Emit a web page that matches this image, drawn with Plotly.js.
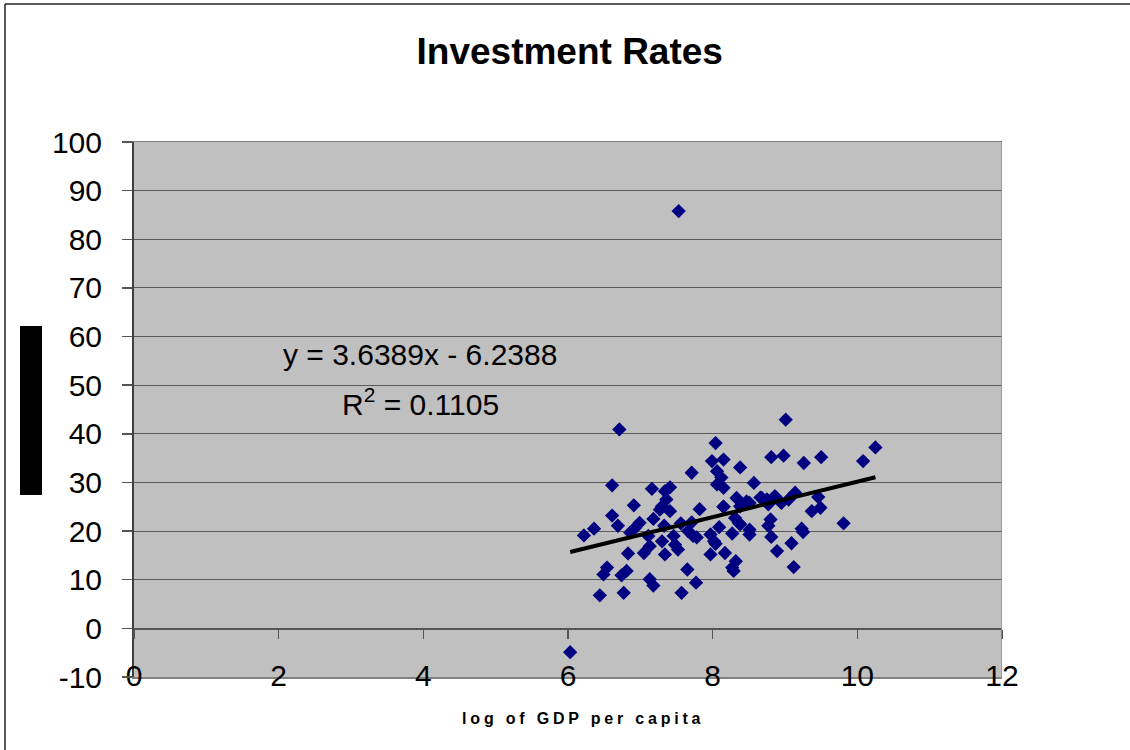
<!DOCTYPE html>
<html>
<head>
<meta charset="utf-8">
<script src="https://cdn.plot.ly/plotly-3.0.1.min.js"></script>
<style>
  html, body { margin: 0; padding: 0; background: #ffffff; }
  #chart { width: 1130px; height: 750px; }
  .annotation[data-index="2"] text { letter-spacing: 3.8px; }
</style>
</head>
<body>
<div id="chart"></div>
<script>
// ---- Data ----
const chartTitle = "Investment Rates";
const xAxisTitle = "log of GDP per capita";
const equationText = "y = 3.6389x - 6.2388";
const r2Text = "R<sup>2</sup> = 0.1105";

const slope = 3.6389;
const intercept = -6.2388;

const logGdp = [
  6.03, 6.22, 6.36, 6.44, 6.49, 6.54, 6.61, 6.61, 6.69, 6.71,
  6.74, 6.77, 6.81, 6.83, 6.86, 6.91, 6.93, 6.99, 7.05, 7.11,
  7.13, 7.13, 7.16, 7.18, 7.18, 7.27, 7.30, 7.30, 7.33, 7.34,
  7.34, 7.36, 7.41, 7.41, 7.46, 7.48, 7.52, 7.53, 7.56, 7.57,
  7.65, 7.66, 7.71, 7.71, 7.73, 7.77, 7.78, 7.82, 7.97, 7.97,
  7.99, 8.02, 8.04, 8.04, 8.06, 8.06, 8.09, 8.12, 8.15, 8.15,
  8.15, 8.15, 8.17, 8.27, 8.27, 8.29, 8.32, 8.31, 8.36, 8.38,
  8.38, 8.33, 8.38, 8.47, 8.51, 8.51, 8.51, 8.57, 8.66, 8.68,
  8.75, 8.77, 8.80, 8.77, 8.81, 8.81, 8.86, 8.89, 8.95, 8.98,
  9.01, 9.05, 9.09, 9.12, 9.14, 9.23, 9.25, 9.26, 9.37, 9.46,
  9.49, 9.50, 9.81, 10.08, 10.25
];
const investRate = [
  -4.9, 19.1, 20.5, 6.8, 11.1, 12.5, 29.4, 23.2, 21.1, 40.9,
  10.9, 7.3, 11.8, 15.4, 19.7, 25.3, 20.7, 21.7, 15.5, 19.0,
  10.1, 16.9, 28.7, 8.8, 22.5, 24.4, 25.1, 17.9, 21.1, 28.2,
  15.2, 26.5, 29.0, 24.1, 19.0, 17.2, 16.2, 85.8, 21.6, 7.3,
  12.1, 20.0, 32.0, 21.8, 19.0, 9.4, 18.7, 24.5, 19.3, 15.2,
  34.4, 17.9, 38.1, 17.4, 32.3, 29.6, 20.8, 31.0, 34.7, 28.9,
  25.0, 25.0, 15.5, 19.5, 12.5, 11.8, 13.8, 22.7, 21.7, 33.1,
  21.4, 26.8, 25.1, 26.1, 25.8, 20.3, 19.3, 29.9, 26.9, 26.8,
  26.5, 25.5, 22.4, 21.1, 18.8, 35.2, 27.2, 15.9, 25.8, 35.5,
  42.9, 26.5, 17.5, 12.6, 27.9, 20.5, 19.8, 34.0, 24.1, 27.0,
  24.8, 35.2, 21.6, 34.4, 37.2
];

const xTickVals = [0, 2, 4, 6, 8, 10, 12];
const xTickText = ["0", "2", "4", "6", "8", "10", "12"];
const yTickVals = [-10, 0, 10, 20, 30, 40, 50, 60, 70, 80, 90, 100];
const yTickText = ["-10", "0", "10", "20", "30", "40", "50", "60", "70", "80", "90", "100"];

// trend line end points: data range
const trendX = [Math.min(...logGdp), Math.max(...logGdp)];
const trendY = trendX.map(v => slope * v + intercept);

const FONT = "Liberation Sans, Arial, sans-serif";

const traces = [
  {
    type: "scatter", mode: "markers",
    x: logGdp, y: investRate,
    marker: { symbol: "diamond", size: 11, color: "#000080", line: { width: 0 } },
    hoverinfo: "x+y", showlegend: false
  },
  {
    type: "scatter", mode: "lines",
    x: trendX, y: trendY, xaxis: "x2", yaxis: "y",
    line: { color: "#000000", width: 4 },
    hoverinfo: "skip", showlegend: false
  }
];

const layout = {
  width: 1130, height: 750,
  margin: { l: 134, r: 128, t: 142, b: 73, pad: 0 },
  paper_bgcolor: "#ffffff",
  plot_bgcolor: "#c0c0c0",
  font: { family: FONT, color: "#000000" },
  showlegend: false,
  title: {
    text: "<b>" + chartTitle + "</b>",
    font: { family: FONT, size: 37, color: "#000000" },
    x: 0.502, xanchor: "center", xref: "paper",
    y: 1 - 51 / 750, yanchor: "middle", yref: "container"
  },
  xaxis: {
    range: [0, 12], tickmode: "array", tickvals: xTickVals, ticktext: xTickText,
    showgrid: false, zeroline: false, ticks: "",
    showline: true, linecolor: "#808080", linewidth: 1.5, mirror: true,
    tickfont: { family: FONT, size: 30, color: "#000000" },
    ticklabelstandoff: -29,
    fixedrange: true
  },
  xaxis2: {
    range: [0, 12], overlaying: "x", anchor: "free", position: 10 / 110,
    tickmode: "array", tickvals: xTickVals,
    showticklabels: false, showgrid: false, zeroline: false,
    ticks: "outside", ticklen: 9, tickwidth: 1.5, tickcolor: "#555555",
    showline: true, linecolor: "#555555", linewidth: 1.5,
    fixedrange: true
  },
  yaxis: {
    range: [-10, 100], tickmode: "array", tickvals: yTickVals, ticktext: yTickText,
    showgrid: true, gridcolor: "#5a5a5a", gridwidth: 1,
    zeroline: false,
    ticks: "outside", ticklen: 10, tickwidth: 1.5, tickcolor: "#555555",
    showline: true, linecolor: "#404040", linewidth: 2,
    tickfont: { family: FONT, size: 30, color: "#000000" },
    ticklabelstandoff: 14,
    fixedrange: true
  },
  annotations: [
    {
      text: equationText, xref: "x", yref: "y", x: 3.96, y: 56.3,
      xanchor: "center", yanchor: "middle", showarrow: false,
      font: { family: FONT, size: 30, color: "#000000" }
    },
    {
      text: r2Text, xref: "x", yref: "y", x: 3.96, y: 46.6,
      xanchor: "center", yanchor: "middle", showarrow: false,
      font: { family: FONT, size: 30, color: "#000000" }
    },
    {
      text: "<b>" + xAxisTitle + "</b>", xref: "paper", yref: "paper",
      x: 0.518, y: -41 / 535, xanchor: "center", yanchor: "middle", showarrow: false,
      font: { family: FONT, size: 16, color: "#000000" }
    }
  ],
  shapes: [
    // right border of plot area
    { type: "line", xref: "x", yref: "paper", x0: 12, x1: 12, y0: 0, y1: 1,
      line: { color: "#909090", width: 1.5 } },
    // black block at left (garbled y title)
    { type: "rect", xref: "paper", yref: "paper",
      x0: (20 - 134) / 868, x1: (42 - 134) / 868,
      y0: (677 - 495) / 535, y1: (677 - 326) / 535,
      fillcolor: "#000000", line: { width: 0 } },
    // outer chart border (left and top)
    { type: "line", xref: "paper", yref: "paper",
      x0: (5 - 134) / 868, x1: (5 - 134) / 868,
      y0: (677 - 760) / 535, y1: (677 - 4) / 535,
      line: { color: "#222222", width: 1.5 } },
    { type: "line", xref: "paper", yref: "paper",
      x0: (5 - 134) / 868, x1: (1140 - 134) / 868,
      y0: (677 - 4) / 535, y1: (677 - 4) / 535,
      line: { color: "#222222", width: 1.5 } }
  ]
};

Plotly.newPlot("chart", traces, layout, { displayModeBar: false, staticPlot: true });
</script>
</body>
</html>
